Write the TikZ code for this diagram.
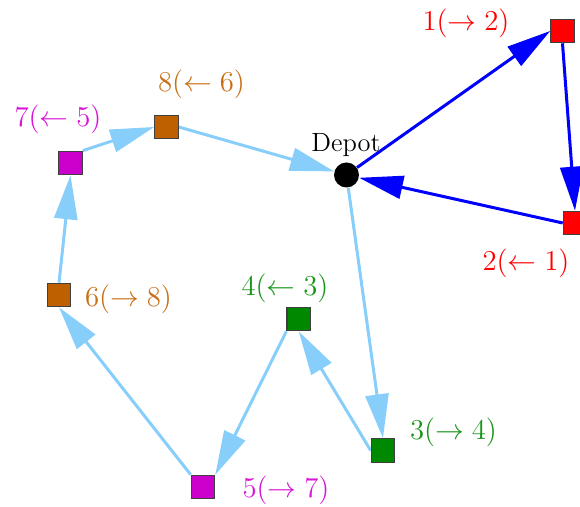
\documentclass[tikz,border=0pt]{standalone}
\usetikzlibrary{arrows.meta,backgrounds}
\definecolor{cred}{RGB}{255,0,0}
\definecolor{cgreen}{RGB}{0,136,0}
\definecolor{tgreen}{RGB}{25,150,25}
\definecolor{cmag}{RGB}{204,0,204}
\definecolor{tmag}{RGB}{215,20,215}
\definecolor{corange}{RGB}{191,96,0}
\definecolor{torange}{RGB}{200,110,20}
\definecolor{lblue}{RGB}{135,206,250}
\definecolor{dblue}{RGB}{0,0,255}
\begin{document}
\begin{tikzpicture}[x=0.5pt,y=-0.5pt,
  cust/.style={rectangle,draw=black!75,line width=0.6pt,minimum size=11.7pt,inner sep=0pt},
  depot/.style={circle,fill=black,minimum size=12.5pt,inner sep=0pt},
  lbl/.style={anchor=base,inner sep=0pt,font=\fontsize{15.4}{18}\selectfont},
  tipbig/.style={-{Triangle[length=22pt,width=11.5pt]}},
  route1/.style={draw=dblue,line width=1.5pt,tipbig},
  route2/.style={draw=lblue,line width=1.5pt,tipbig}]
\useasboundingbox (0,0) rectangle (580,507);
% nodes
\node[depot] (D) at (346.5,175) {};
\node[anchor=base,inner sep=0pt,font=\fontsize{13.2}{16}\selectfont] (Dl) at (346,151.5) {Depot};
\node[cust,fill=cred] (n1) at (562.5,31) {};
\node[cust,fill=cred] (n2) at (575,223) {};
\node[cust,fill=cgreen] (n3) at (383,450.5) {};
\node[cust,fill=cgreen] (n4) at (298.7,319) {};
\node[cust,fill=cmag] (n5) at (203,487) {};
\node[cust,fill=corange] (n6) at (59,295) {};
\node[cust,fill=cmag] (n7) at (70.5,163) {};
\node[cust,fill=corange] (n8) at (166.5,127) {};
% labels
\node[lbl,text=cred] (l1) at (466,30.5) {$1(\rightarrow 2)$};
\node[lbl,text=cred] (l2) at (526,271) {$2(\leftarrow 1)$};
\node[lbl,text=tgreen] (l3) at (453.5,440) {$3(\rightarrow 4)$};
\node[lbl,text=tgreen] (l4) at (285,296) {$4(\leftarrow 3)$};
\node[lbl,text=tmag] (l5) at (286,498) {$5(\rightarrow 7)$};
\node[lbl,text=torange] (l6) at (128.5,307) {$6(\rightarrow 8)$};
\node[lbl,text=tmag] (l7) at (58,127) {$7(\leftarrow 5)$};
\node[lbl,text=torange] (l8) at (201.5,92) {$8(\leftarrow 6)$};
% connectors
\begin{pgfonlayer}{background}
\draw[route1] (D) -- (n1.west);
\draw[route1] (n1.south) -- (n2.north);
\draw[route1] (n2.west) -- (D);
\draw[route2] (D) -- (n3.north);
\draw[route2] (n3.west) -- (n4.south);
\draw[route2] (n4.south west) -- (n5.north east);
\draw[route2] (n5.north west) -- (n6.south);
\draw[route2] (n6.north) -- (n7.south);
\draw[route2] (n7.north east) -- (n8.west);
\draw[route2] (n8.east) -- (D);
\end{pgfonlayer}
\end{tikzpicture}
\end{document}
